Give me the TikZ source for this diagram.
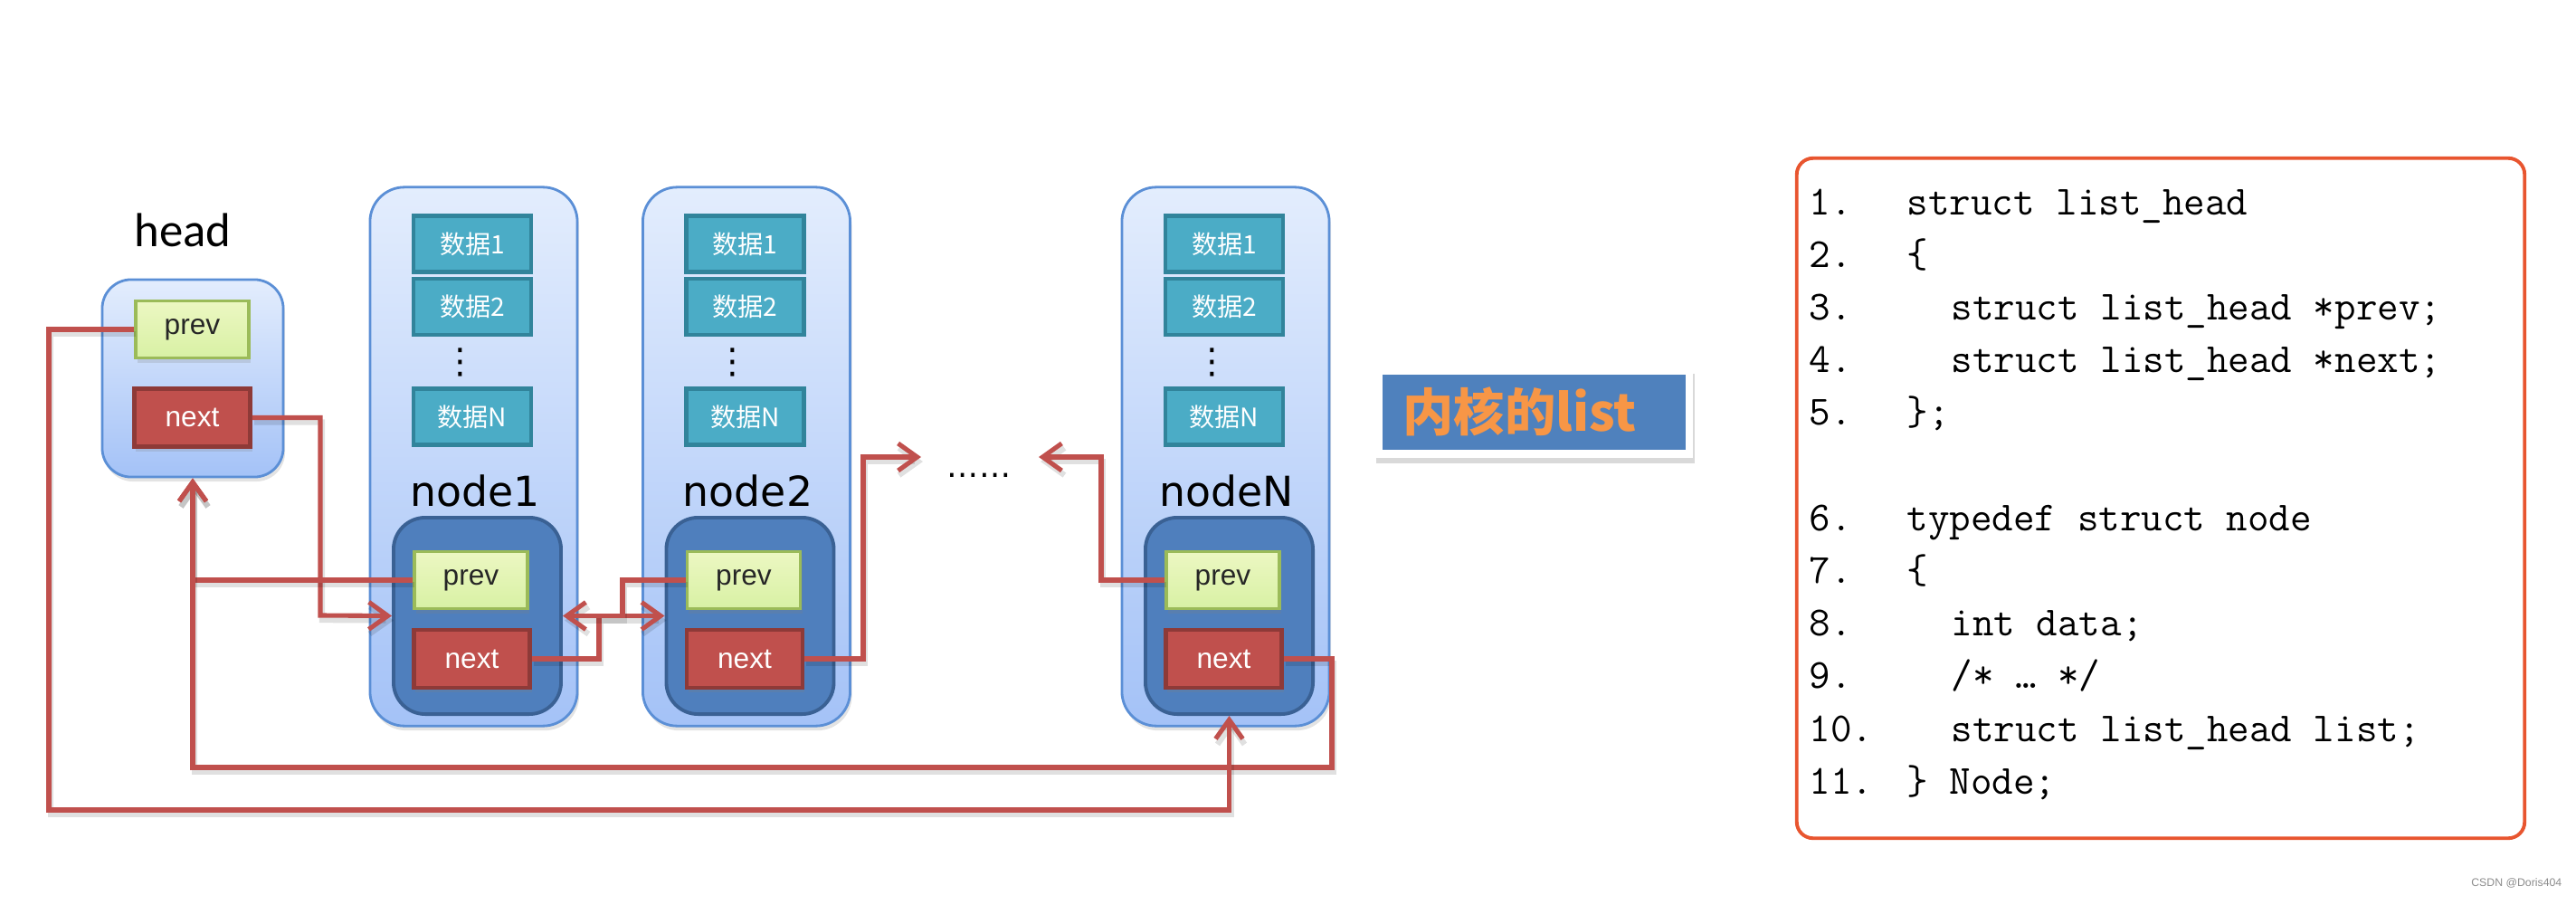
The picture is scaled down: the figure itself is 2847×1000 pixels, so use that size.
\documentclass[tikz,border=0pt]{standalone}
\usepackage{fontspec}
\usetikzlibrary{arrows.meta,shadows,calc}
\newfontfamily\cjk{Noto Sans CJK SC}
\newfontfamily\dvs{DejaVu Sans}
\newfontfamily\lsans{Liberation Sans}
\newfontfamily\carl{Carlito}

\definecolor{linkred}{HTML}{C0504D}
\definecolor{outerdraw}{HTML}{5B8FD6}
\definecolor{outertop}{HTML}{E3EDFD}
\definecolor{outerbot}{HTML}{A4C2F7}
\definecolor{innerfill}{HTML}{4F7FBD}
\definecolor{innerdraw}{HTML}{3A6194}
\definecolor{datafill}{HTML}{4BACC6}
\definecolor{datadraw}{HTML}{31849B}
\definecolor{prevtop}{HTML}{ECF7C2}
\definecolor{prevbot}{HTML}{D8F1A4}
\definecolor{prevdraw}{HTML}{9BBB59}
\definecolor{nextfill}{HTML}{C0504D}
\definecolor{nextdraw}{HTML}{8E3A38}
\definecolor{titleblue}{HTML}{4F81BD}
\definecolor{titleorange}{HTML}{F79646}
\definecolor{codered}{HTML}{E8552F}

\tikzset{
  softshadow/.style={drop shadow={shadow xshift=0.02cm, shadow yshift=-0.05cm, opacity=0.22}},
  outerbox/.style={rectangle, rounded corners=0.38cm, draw=outerdraw, line width=0.8pt,
     top color=outertop, bottom color=outerbot, minimum width=2.29cm, minimum height=5.95cm, softshadow},
  headbox/.style={outerbox, minimum width=2.0cm, minimum height=2.18cm, rounded corners=0.32cm},
  innerbox/.style={rectangle, rounded corners=0.35cm, draw=innerdraw, line width=1.1pt,
     fill=innerfill, minimum width=1.85cm, minimum height=2.17cm},
  databox/.style={rectangle, draw=datadraw, line width=1.3pt, fill=datafill, text=white,
     minimum width=1.30cm, minimum height=0.62cm, inner sep=0pt,
     font={\cjk\fontsize{8pt}{8pt}\selectfont}},
  prevbox/.style={rectangle, draw=prevdraw, line width=0.9pt, top color=prevtop, bottom color=prevbot,
     minimum width=1.25cm, minimum height=0.63cm, inner sep=0pt, text=black!85,
     font={\lsans\fontsize{9pt}{9pt}\selectfont}, softshadow},
  nextbox/.style={rectangle, draw=nextdraw, line width=1.3pt, fill=nextfill, text=white,
     minimum width=1.28cm, minimum height=0.64cm, inner sep=0pt,
     font={\lsans\fontsize{9pt}{9pt}\selectfont}, softshadow},
  colname/.style={anchor=base, inner sep=0pt, font={\dvs\fontsize{13pt}{13pt}\selectfont}},
  vdotsnode/.style={inner sep=0pt, font={\dvs\fontsize{11pt}{11pt}\selectfont}},
  link/.style={draw=linkred, line width=1.45pt,
     preaction={draw=black, opacity=0.12, line width=1.8pt,
                transform canvas={xshift=0.02cm, yshift=-0.05cm}}},
  linkarrow/.style={link, -{Straight Barb[length=0.21cm, width=0.3cm]}},
  codeline/.style={anchor=base west, inner sep=0pt, font={\ttfamily\fontsize{13pt}{13pt}\selectfont}},
}

\newcommand\listcol[3]{%
  \node[outerbox] (#1o) at (#2,504.5) {};
  \node[databox] (#1d1) at (#2-1.5,269.5) {数据1};
  \node[databox] (#1d2) at (#2-1.5,339) {数据2};
  \node[vdotsnode] (#1dots) at (#2-15,400) {⋮};
  \node[databox] (#1dn) at (#2-1.5,460.5) {数据N};
  \node[colname] (#1l) at (#2+1.5,559) {#3};
  \node[innerbox] (#1in) at (#2+4,680.5) {};
  \node[prevbox] (#1p) at (#2-3,641) {prev};
  \node[nextbox] (#1n) at (#2-2,728) {next};
}

\begin{document}
\begin{tikzpicture}[x=0.01cm, y=-0.01cm]
\useasboundingbox (0,0) rectangle (2847,1000);

% head
\node[anchor=base, inner sep=0pt, font={\carl\fontsize{15pt}{15pt}\selectfont}] (hl) at (202,272) {head};
\node[headbox] (hbox) at (213,418) {};
\node[prevbox] (hp) at (212.5,364) {prev};
\node[nextbox] (hn) at (212.5,461.5) {next};

% list nodes
\listcol{n1}{523.5}{node1}
\listcol{n2}{825}{node2}
\listcol{nN}{1354.5}{nodeN}

\node[anchor=base, inner sep=0pt, font={\dvs\fontsize{10pt}{10pt}\selectfont}] (ell) at (1082,527) {……};

% connectors
\coordinate (b1) at (354,680);
\draw[linkarrow] (hn.east) -| (b1) -- (n1in.west);
\draw[linkarrow] (n1p.west) -| (hbox.south);
\coordinate (b3) at (1472,848);
\draw[linkarrow] (nNn.east) -| (b3) -| (hbox.south);
\coordinate (b4) at (54,895);
\draw[linkarrow] (hp.west) -| (b4) -| (nNin.south);
\coordinate (b5) at (662,0);
\draw[linkarrow] (n1n.east) -| (b5 |- n2in.west) -- (n2in.west);
\coordinate (b6) at (688,0);
\draw[linkarrow] (n2p.west) -| (b6 |- n1in.east) -- (n1in.east);
\coordinate (b7) at (954,505);
\coordinate (a7) at (1018,505);
\draw[linkarrow] (n2n.east) -| (b7) -- (a7);
\coordinate (b8) at (1217,505);
\coordinate (a8) at (1148,505);
\draw[linkarrow] (nNp.west) -| (b8) -- (a8);

% title
\node[fill=white, minimum width=3.52cm, minimum height=0.99cm, inner sep=0pt,
      drop shadow={shadow xshift=0.02cm, shadow yshift=-0.06cm, opacity=0.3}] (tf) at (1695,456.5) {};
\node[fill=titleblue, minimum width=3.35cm, minimum height=0.83cm, inner sep=0pt] (tb) at (1695.5,455.5) {};
\node[anchor=west, inner sep=0pt, text=titleorange, font={\cjk\bfseries\fontsize{16pt}{16pt}\selectfont}] (tt) at (1550,455) {内核的list};

% code box
\node[draw=codered, line width=1.1pt, rounded corners=0.18cm, minimum width=8.04cm, minimum height=7.51cm] (code) at (2388,550.5) {};
\node[codeline] (c1n) at (1999,237) {1.};
\node[codeline] (c1) at (2107,237) {struct list\_head};
\node[codeline] (c2n) at (1999,295.2) {2.};
\node[codeline] (c2) at (2107,295.2) {\{};
\node[codeline] (c3n) at (1999,353.4) {3.};
\node[codeline] (c3) at (2156,353.4) {struct list\_head *prev;};
\node[codeline] (c4n) at (1999,411.6) {4.};
\node[codeline] (c4) at (2156,411.6) {struct list\_head *next;};
\node[codeline] (c5n) at (1999,469.8) {5.};
\node[codeline] (c5) at (2107,469.8) {\};};
\node[codeline] (c6n) at (1999,586.2) {6.};
\node[codeline] (c6) at (2107,586.2) {typedef struct node};
\node[codeline] (c7n) at (1999,644.4) {7.};
\node[codeline] (c7) at (2107,644.4) {\{};
\node[codeline] (c8n) at (1999,702.6) {8.};
\node[codeline] (c8) at (2156,702.6) {int data;};
\node[codeline] (c9n) at (1999,760.8) {9.};
\node[codeline] (c9) at (2156,760.8) {/* … */};
\node[codeline] (c10n) at (1999,819) {10.};
\node[codeline] (c10) at (2156,819) {struct list\_head list;};
\node[codeline] (c11n) at (1999,877.2) {11.};
\node[codeline] (c11) at (2107,877.2) {\} Node;};

% watermark
\node[anchor=east, inner sep=0pt, text=black!45, font={\lsans\fontsize{3.5pt}{3.5pt}\selectfont}] (wm) at (2832,976) {CSDN @Doris404};
\end{tikzpicture}
\end{document}
